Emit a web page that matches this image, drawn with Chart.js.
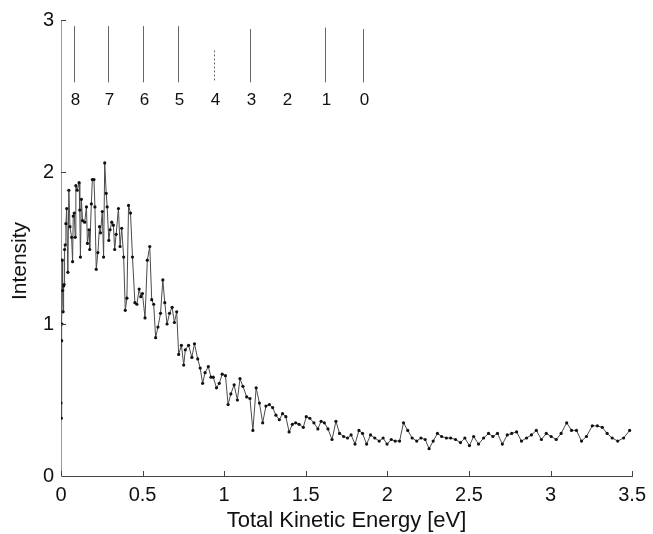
<!DOCTYPE html>
<html>
<head>
<meta charset="utf-8">
<script src="https://cdn.jsdelivr.net/npm/chart.js@4.4.0/dist/chart.umd.min.js"></script>
<style>
  html, body { margin: 0; padding: 0; background: #fff; }
  #wrap { width: 653px; height: 534px; }
</style>
</head>
<body>
<div id="wrap"><canvas id="tkeChart"></canvas></div>
<script>
// Total kinetic energy [eV]
const energy = [
  0.000, 0.002, 0.004, 0.006, 0.008, 0.010, 0.013, 0.016, 0.019, 0.022, 0.026,
  0.030, 0.035, 0.042, 0.048, 0.055, 0.065, 0.071, 0.075, 0.081, 0.087, 0.091,
  0.099, 0.111, 0.115, 0.119, 0.125, 0.132, 0.145, 0.156, 0.162, 0.172, 0.176,
  0.186, 0.192, 0.202, 0.208, 0.216, 0.226, 0.236, 0.242, 0.253, 0.261, 0.268,
  0.277, 0.283, 0.293, 0.301, 0.311, 0.321, 0.329, 0.338, 0.352, 0.362, 0.372,
  0.384, 0.394, 0.404, 0.414, 0.426, 0.438, 0.453, 0.465, 0.479, 0.489, 0.499,
  0.515, 0.529, 0.544, 0.556, 0.568, 0.580, 0.594, 0.610, 0.624, 0.636, 0.650,
  0.665, 0.681, 0.695, 0.709, 0.721, 0.738, 0.752, 0.762, 0.782, 0.802, 0.818,
  0.838, 0.853, 0.868, 0.883, 0.903, 0.919, 0.933, 0.953, 0.970, 0.988, 1.008,
  1.024, 1.041, 1.061, 1.081, 1.097, 1.115, 1.138, 1.158, 1.176, 1.196, 1.216,
  1.236, 1.256, 1.277, 1.297, 1.317, 1.338, 1.358, 1.378, 1.398, 1.418, 1.438,
  1.459, 1.485, 1.503, 1.525, 1.550, 1.574, 1.594, 1.614, 1.636, 1.661, 1.685,
  1.707, 1.732, 1.756, 1.778, 1.802, 1.826, 1.848, 1.873, 1.897, 1.923, 1.950,
  1.974, 1.998, 2.024, 2.048, 2.075, 2.099, 2.125, 2.152, 2.180, 2.206, 2.232,
  2.256, 2.281, 2.307, 2.333, 2.362, 2.388, 2.418, 2.448, 2.475, 2.503, 2.529,
  2.559, 2.590, 2.620, 2.647, 2.675, 2.705, 2.735, 2.762, 2.792, 2.822, 2.853,
  2.883, 2.913, 2.944, 2.974, 3.004, 3.035, 3.065, 3.099, 3.129, 3.159, 3.190,
  3.220, 3.256, 3.287, 3.317, 3.347, 3.378, 3.412, 3.448, 3.485
];

// Intensity at each energy
const intensity = [
  0.48, 0.38, 0.89, 1.00, 1.42, 1.22, 1.08, 1.25, 1.26, 1.49, 1.52,
  1.66, 1.76, 1.34, 1.88, 1.64, 1.57, 1.41, 1.71, 1.73, 1.57, 1.91,
  1.88, 1.93, 1.75, 1.44, 1.82, 1.68, 1.67, 1.77, 1.53, 1.62, 1.49,
  1.79, 1.95, 1.95, 1.77, 1.36, 1.47, 1.64, 1.60, 1.74, 1.44, 2.06,
  1.86, 1.77, 1.55, 1.62, 1.67, 1.65, 1.49, 1.59, 1.76, 1.51, 1.63,
  1.44, 1.09, 1.17, 1.78, 1.73, 1.44, 1.14, 1.13, 1.23, 1.18, 1.20,
  1.04, 1.42, 1.51, 1.16, 1.13, 0.91, 0.98, 1.07, 1.29, 1.14, 1.00,
  1.07, 1.11, 1.01, 1.08, 0.80, 0.86, 0.73, 0.83, 0.86, 0.78, 0.87,
  0.77, 0.71, 0.61, 0.68, 0.72, 0.65, 0.65, 0.58, 0.61, 0.67, 0.66,
  0.47, 0.54, 0.60, 0.50, 0.64, 0.59, 0.52, 0.51, 0.30, 0.58, 0.48,
  0.35, 0.46, 0.47, 0.45, 0.40, 0.37, 0.41, 0.39, 0.29, 0.34, 0.35,
  0.34, 0.32, 0.39, 0.38, 0.35, 0.31, 0.36, 0.35, 0.31, 0.24, 0.36,
  0.28, 0.26, 0.25, 0.27, 0.21, 0.30, 0.28, 0.21, 0.27, 0.25, 0.23,
  0.25, 0.21, 0.24, 0.23, 0.23, 0.35, 0.30, 0.25, 0.23, 0.25, 0.24,
  0.18, 0.23, 0.28, 0.26, 0.25, 0.25, 0.24, 0.22, 0.25, 0.20, 0.26,
  0.21, 0.25, 0.28, 0.26, 0.28, 0.21, 0.27, 0.28, 0.29, 0.23, 0.25,
  0.27, 0.30, 0.24, 0.28, 0.26, 0.24, 0.28, 0.35, 0.30, 0.30, 0.23,
  0.26, 0.33, 0.33, 0.32, 0.28, 0.25, 0.23, 0.25, 0.30
];

// vibrational level markers along the top
const levelLabels = ['8', '7', '6', '5', '4', '3', '2', '1', '0'];
const levelEnergy = [0.082, 0.290, 0.503, 0.715, 0.940, 1.158, 1.380, 1.616, 1.850];
const levelTop = [2.96, 2.96, 2.96, 2.96, 2.80, 2.94, null, 2.95, 2.94];
const levelBottom = 2.59;
const levelLabelY = 2.47;

const xMin = 0, xMax = 3.5, xStep = 0.5;
const yMin = 0, yMax = 3, yStep = 1;

const fontFamily = '"Liberation Sans", Arial, Helvetica, sans-serif';

const overlay = {
  id: 'overlay',
  afterDatasetsDraw(chart) {
    const ctx = chart.ctx;
    const x = chart.scales.x;
    const y = chart.scales.y;
    ctx.save();

    // inward tick marks
    ctx.strokeStyle = '#444';
    ctx.lineWidth = 1;
    x.ticks.forEach(t => {
      const px = Math.round(x.getPixelForValue(t.value)) + 0.5;
      ctx.beginPath();
      ctx.moveTo(px, y.bottom);
      ctx.lineTo(px, y.bottom - 5);
      ctx.stroke();
    });
    y.ticks.forEach(t => {
      if (t.value === 0) return;
      const py = Math.round(y.getPixelForValue(t.value)) + 0.5;
      ctx.beginPath();
      ctx.moveTo(x.left, py);
      ctx.lineTo(x.left + 5, py);
      ctx.stroke();
    });

    // level lines and numbers
    ctx.strokeStyle = '#666';
    ctx.fillStyle = '#111';
    ctx.font = '17px ' + fontFamily;
    ctx.textAlign = 'center';
    ctx.textBaseline = 'middle';
    levelLabels.forEach((lab, i) => {
      const px = Math.round(x.getPixelForValue(levelEnergy[i])) + 0.5;
      if (levelTop[i] !== null) {
        ctx.setLineDash(i === 4 ? [2, 2] : []);
        ctx.beginPath();
        ctx.moveTo(px, y.getPixelForValue(levelTop[i]));
        ctx.lineTo(px, y.getPixelForValue(levelBottom));
        ctx.stroke();
      }
      ctx.fillText(lab, px + 1, y.getPixelForValue(levelLabelY));
    });
    ctx.setLineDash([]);

    // y axis title
    ctx.font = '21px ' + fontFamily;
    ctx.translate(20, (y.top + y.bottom) / 2 + 13);
    ctx.rotate(-Math.PI / 2);
    ctx.fillText('Intensity', 0, 0);
    ctx.restore();
  }
};

const ctx = document.getElementById('tkeChart').getContext('2d');
new Chart(ctx, {
  type: 'scatter',
  data: {
    datasets: [{
      label: 'Intensity',
      data: energy.map((e, i) => ({ x: e, y: intensity[i] })),
      showLine: true,
      borderColor: '#4a4a4a',
      borderWidth: 1,
      pointRadius: 1.6,
      pointBackgroundColor: '#111',
      pointBorderWidth: 0,
      tension: 0
    }]
  },
  options: {
    responsive: true,
    maintainAspectRatio: false,
    animation: false,
    layout: { padding: { top: 20, right: 15, left: 0, bottom: 0 } },
    plugins: {
      legend: { display: false },
      tooltip: { enabled: false }
    },
    scales: {
      x: {
        type: 'linear',
        min: xMin,
        max: xMax,
        afterFit: s => { s.height = 58; },
        grid: { display: true, drawOnChartArea: false, drawTicks: false },
        border: { display: true, color: '#444', width: 1 },
        ticks: {
          stepSize: xStep,
          padding: 7,
          color: '#111',
          font: { family: fontFamily, size: 20 },
          callback: v => String(Math.round(v * 10) / 10)
        },
        title: {
          display: true,
          text: 'Total Kinetic Energy [eV]',
          color: '#111',
          font: { family: fontFamily, size: 22 },
          padding: { top: 0, bottom: 0 }
        }
      },
      y: {
        type: 'linear',
        min: yMin,
        max: yMax,
        afterFit: s => { s.width = 61; },
        grid: { display: true, drawOnChartArea: false, drawTicks: false },
        border: { display: true, color: '#999', width: 1 },
        ticks: {
          stepSize: yStep,
          padding: 7,
          color: '#111',
          font: { family: fontFamily, size: 20 },
          callback: v => String(v)
        }
      }
    }
  },
  plugins: [overlay]
});
</script>
</body>
</html>
